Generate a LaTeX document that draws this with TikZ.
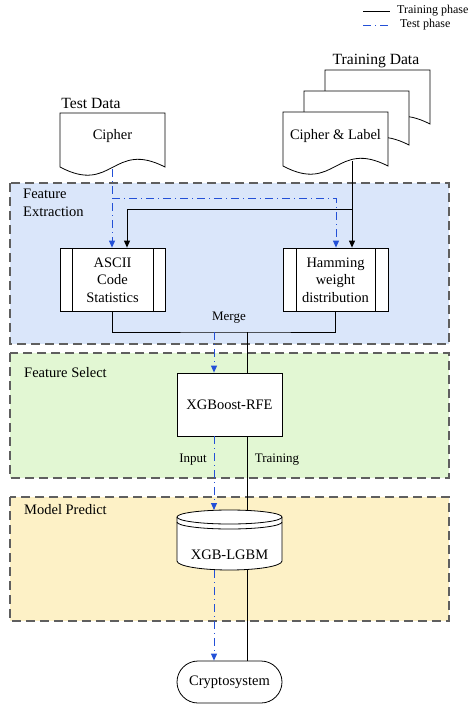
\documentclass[tikz,border=0pt]{standalone}
\usepackage{fontspec}
\setmainfont{Liberation Serif}
\usetikzlibrary{arrows.meta,calc}
\definecolor{testblue}{RGB}{35,80,215}
\definecolor{fxfill}{RGB}{218,230,250}
\definecolor{fsfill}{RGB}{226,247,211}
\definecolor{mpfill}{RGB}{253,241,198}
\definecolor{regborder}{RGB}{95,95,95}
\tikzset{
  region/.style={draw=regborder, dash pattern=on 9pt off 5pt, line width=1.1pt},
  train/.style={draw=black, line width=0.9pt},
  testln/.style={draw=testblue, line width=0.9pt, dash pattern=on 8pt off 4pt on 1pt off 4pt},
  arr/.style={-{Triangle[length=7pt,width=6pt]}},
  box/.style={draw, fill=white, line width=0.8pt, inner sep=0pt, minimum width=105pt},
  docsh/.style={draw, fill=white, line width=0.8pt},
  big/.style={font=\fontsize{14.5}{17.5}\selectfont, inner sep=0pt, align=center},
  doclbl/.style={font=\fontsize{15.6}{18}\selectfont, inner sep=0pt},
  mid/.style={font=\fontsize{13}{15}\selectfont, inner sep=0pt},
  small/.style={font=\fontsize{12}{14}\selectfont, inner sep=0pt, anchor=west},
}
\newcommand\docshp[2]{%
  \draw[docsh] (#1,{#2+54}) -- (#1,#2) -- ({#1+105},#2) -- ({#1+105},{#2+54})
    .. controls ({#1+52.5},{#2+27}) and ({#1+52.5},{#2+82}) .. (#1,{#2+54}) -- cycle;}
\begin{document}
\begin{tikzpicture}[x=1pt,y=-1pt]
\useasboundingbox (0,0) rectangle (474,705);
% legend
\coordinate (l1a) at (363,11); \coordinate (l1b) at (390,11);
\coordinate (l2a) at (363,25); \coordinate (l2b) at (390,25);
\draw[train] (l1a) -- (l1b);
\draw[testln] (l2a) -- (l2b);
\node[small] (lt1) at (397,11) {Training phase};
\node[small] (lt2) at (400,25) {Test phase};
% regions
\draw[region, fill=fxfill] (10,183) rectangle (449,344);
\draw[region, fill=fsfill] (10,353) rectangle (449,478);
\draw[region, fill=mpfill] (10,497) rectangle (449,621);
\node[big, anchor=north west, align=left] (fxl) at (23,189) {Feature\\Extraction};
\node[big, anchor=west] (fsl) at (24,373) {Feature Select};
\node[big, anchor=west] (mpl) at (24,510) {Model Predict};
% documents
\node[doclbl] (testdata) at (91,103) {Test Data};
\docshp{60}{113}
\node[big] (cipher) at (112.5,136) {Cipher};
\node[doclbl] (traindata) at (376,61) {Training Data};
\docshp{325}{70}
\docshp{304}{91}
\docshp{283}{112}
\node[big] (cl) at (335.5,136) {Cipher \& Label};
% feature boxes
\node[box, minimum height=63pt] (ascii) at (112.5,279.5) {};
\draw[line width=0.8pt] (72,248) -- (72,311) (153,248) -- (153,311);
\node[big] (asciit) at (112.5,280) {ASCII\\Code\\Statistics};
\node[box, minimum height=63pt] (ham) at (335.5,279.5) {};
\draw[line width=0.8pt] (296,248) -- (296,311) (375,248) -- (375,311);
\node[big] (hamt) at (335.5,280) {Hamming\\weight\\distribution};
% connectors into feature extraction
\coordinate (cipherbot) at (112,169);
\coordinate (clbot) at (352,161);
\coordinate (tbr) at (112,198);
\coordinate (kbr) at (352,209);
\draw[testln, arr] (cipherbot) -- (cipherbot |- ascii.north);
\draw[testln, arr] (tbr) -| (ham.north -| 336,0);
\draw[train, arr] (clbot) -- (clbot |- ham.north);
\draw[train, arr] (kbr) -| (ascii.north -| 127,0);
% merge
\coordinate (mk) at (247,332);
\coordinate (mb) at (214,332);
\draw[train] (ascii.south) |- (mk) -| (ham.south);
\node[mid] (merge) at (229,318) {Merge};
% XGBoost-RFE
\node[box, minimum height=63pt] (xgb) at (229.5,404.5) {};
\node[big] (xgbt) at (229.5,405) {XGBoost-RFE};
\draw[train] (mk) -- (mk |- xgb.north);
\draw[testln, arr] (mb) -- (mb |- xgb.north);
% cylinder
\draw[docsh] (177,517) -- (177,561) arc[start angle=180, end angle=0, x radius=52.5, y radius=9]
  -- (282,517) arc[start angle=0, end angle=-180, x radius=52.5, y radius=7] -- cycle;
\draw[line width=0.8pt] (177,517) arc[start angle=180, end angle=0, x radius=52.5, y radius=7];
\draw[line width=0.8pt] (177,522) arc[start angle=180, end angle=0, x radius=52.5, y radius=7];
\node[minimum width=105pt, minimum height=60pt, inner sep=0pt] (lgbm) at (229.5,540) {};
\node[big] (lgbmt) at (229.5,555) {XGB-LGBM};
\coordinate (cyltopb) at (214,510);
\coordinate (cyltopk) at (247,510.5);
\coordinate (cylbotb) at (214,570);
\coordinate (cylbotk) at (247,570);
\draw[testln, arr] (xgb.south -| mb) -- (cyltopb);
\draw[train] (xgb.south -| mk) -- (cyltopk);
\node[mid] (inp) at (193,460) {Input};
\node[mid] (trn) at (277,460) {Training};
% cryptosystem
\node[draw, fill=white, line width=0.8pt, rounded corners=21pt, minimum width=105pt, minimum height=42pt, inner sep=0pt, font=\fontsize{14.5}{17.5}\selectfont] (crypto) at (229.5,682) {Cryptosystem};
\draw[testln, arr] (cylbotb) -- (cylbotb |- crypto.north);
\draw[train] (cylbotk) -- (cylbotk |- crypto.north);
\end{tikzpicture}
\end{document}
